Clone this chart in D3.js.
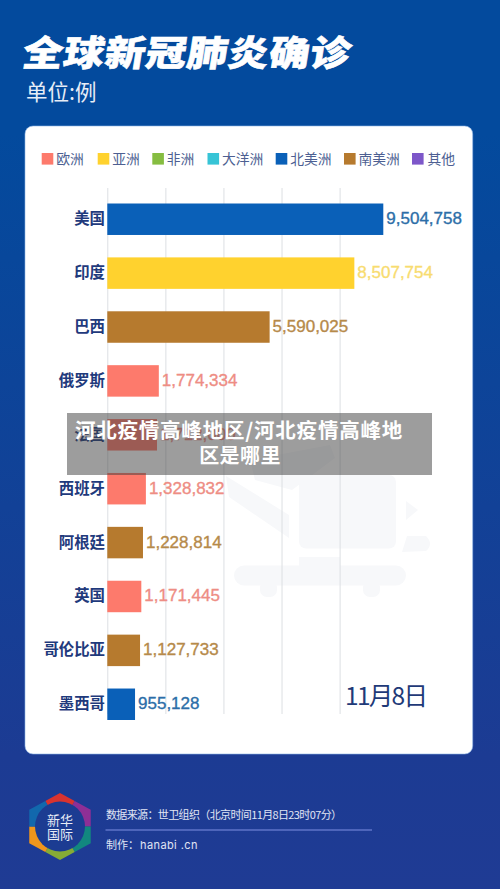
<!DOCTYPE html>
<html><head><meta charset="utf-8">
<script src="https://cdnjs.cloudflare.com/ajax/libs/d3/7.8.5/d3.min.js"></script>
<style>html,body{margin:0;padding:0;background:#0b4499}svg{display:block}</style>
</head><body><div id="c"></div>
<script>
const countries = ["美国","印度","巴西","俄罗斯","法国","西班牙","阿根廷","英国","哥伦比亚","墨西哥"];
const cases = [9504758,8507754,5590025,1774334,1712000,1328832,1228814,1171445,1127733,955128];
const regionOf = ["北美洲","亚洲","南美洲","欧洲","欧洲","欧洲","南美洲","欧洲","南美洲","北美洲"];
const legendNames = ["欧洲","亚洲","非洲","大洋洲","北美洲","南美洲","其他"];
const legendColors = ["#fd7a6c","#ffd22e","#86bd41","#37c4d6","#0a60b8","#b67a2e","#7d57c9"];
const valueColors = ["#ee8d84","#f8dc70","#86bd41","#37c4d6","#2c6ea8","#b68a4a","#7d57c9"];
const legendX = [41.7,97.7,152.3,207.5,275.7,344,412];
const ticks = [0,2000000,4000000,6000000,8000000];
const logoColors = ["#d9332f","#8e2f96","#12877f","#86ac35","#f0961c","#1268ad"];

const W=500,H=889,CN='"Noto Sans CJK SC","Noto Sans",sans-serif';
const svg=d3.select("#c").append("svg").attr("width",W).attr("height",H);
const defs=svg.append("defs");
const g=defs.append("linearGradient").attr("id","bg").attr("x1",0).attr("y1",0).attr("x2",0).attr("y2",1);
g.append("stop").attr("offset","0.15").attr("stop-color","#034a9d");
g.append("stop").attr("offset","0.85").attr("stop-color","#1c3b93");
g.append("stop").attr("offset","1").attr("stop-color","#1f3b94");
svg.append("rect").attr("width",W).attr("height",H).attr("fill","url(#bg)");

// title
svg.append("text").attr("transform","translate(21,65.5) skewX(-9) scale(1,0.88)")
 .attr("font-family",CN).attr("font-weight",900).attr("font-size",40.5).attr("fill","#fff")
 .attr("stroke","#fff").attr("stroke-width",0.7).attr("letter-spacing",0.6).text("全球新冠肺炎确诊");
svg.append("text").attr("x",26).attr("y",100).attr("font-family",CN).attr("font-size",21.5)
 .attr("fill","#e6edf7").text("单位:例");

// card
svg.append("rect").attr("x",25).attr("y",126).attr("width",447.7).attr("height",628).attr("rx",8)
 .attr("fill","#fff").attr("stroke","#8fb6e6").attr("stroke-width",0.6);

// watermark
const wm=svg.append("g").attr("fill","#f7f8fa");
wm.append("rect").attr("x",299).attr("y",475).attr("width",97).attr("height",73.5).attr("rx",7);
wm.append("rect").attr("x",234).attr("y",565.5).attr("width",172).attr("height",20).attr("rx",10);
wm.append("rect").attr("x",299).attr("y",557).attr("width",41).attr("height",12);
wm.append("rect").attr("x",260).attr("y",580).attr("width",17).attr("height",17).attr("rx",7);
wm.append("rect").attr("x",363).attr("y",580).attr("width",17).attr("height",17).attr("rx",7);
wm.append("path").attr("d","M226 476 L289 515 L289 538 L229 497 Z");
wm.append("path").attr("d","M250 460 L330 445 L335 458 L292 490 L255 480 Z");
wm.append("path").attr("d","M406 501 L418 510 L406 520 Z");
wm.append("path").attr("d","M407 536 L426 536 Q434 544 426 551 L402 552 Z");

// legend
const lg=svg.append("g").selectAll("g").data(legendNames).join("g")
 .attr("transform",(d,i)=>`translate(${legendX[i]},153)`);
lg.append("rect").attr("width",11.6).attr("height",11.6).attr("fill",(d,i)=>legendColors[i]);
lg.append("text").attr("x",d=>d=="其他"?15.5:14.5).attr("y",10.8).attr("font-family",CN).attr("font-size",13.8)
 .attr("fill","#4d5f92").text(d=>d);

// scales
const x=d3.scaleLinear().domain([0,9504758]).range([107.3,383.3]);
const y=d3.scaleBand().domain(countries).range([203.5,720]).paddingInner(0.416).paddingOuter(0);
const color=d3.scaleOrdinal().domain(legendNames).range(legendColors);
const vcolor=d3.scaleOrdinal().domain(legendNames).range(valueColors);

// grid
const gridAxis=d3.axisBottom(x).tickValues(ticks).tickSize(526).tickFormat("");
const ga=svg.append("g").attr("transform","translate(0,188)").call(gridAxis);
ga.select(".domain").remove();
ga.selectAll("line").attr("stroke","#dcdfe3").attr("stroke-width",1);

// bars
const rows=countries.map((c,i)=>({c,v:cases[i],r:regionOf[i]}));
svg.append("g").selectAll("rect").data(rows).join("rect")
 .attr("x",x(0)).attr("y",d=>y(d.c)).attr("width",d=>x(d.v)-x(0)).attr("height",y.bandwidth())
 .attr("fill",d=>color(d.r));
svg.append("g").selectAll("text").data(rows).join("text")
 .attr("x",d=>x(d.v)+3).attr("y",d=>y(d.c)+y.bandwidth()/2+0.5).attr("dominant-baseline","middle")
 .attr("font-family","'Liberation Sans',sans-serif").attr("font-size",17)
 .attr("fill",d=>vcolor(d.r)).attr("stroke",d=>vcolor(d.r)).attr("stroke-width",0.35).text(d=>d3.format(",")(d.v));

// category labels
const ya=svg.append("g").attr("transform","translate(105,0)").call(d3.axisLeft(y).tickSize(0).tickPadding(0));
ya.select(".domain").remove();
ya.selectAll("text").attr("font-family",CN).attr("font-weight",700).attr("font-size",15.4).attr("fill","#1f3a7c");

// date
svg.append("text").attr("x",345).attr("y",705).attr("font-family",CN).attr("font-size",24.5)
 .attr("fill","#1f3a78").attr("textLength",83).text("11月8日");

// logo
const logo=svg.append("g").attr("transform","translate(60,826.5)");
const hex=d3.range(6).map(i=>{const a=i*Math.PI/3;return [35.5*Math.sin(a),-33.5*Math.cos(a)];});
defs.append("clipPath").attr("id","hex").append("polygon").attr("points",hex.map(p=>p.join(",")).join(" "));
const pie=d3.pie().value(1).sort(null).startAngle(-Math.PI/6).endAngle(2*Math.PI-Math.PI/6);
logo.append("g").attr("clip-path","url(#hex)").selectAll("path").data(pie(logoColors)).join("path")
 .attr("d",d3.arc().innerRadius(0).outerRadius(42)).attr("fill",d=>d.data);
logo.append("circle").attr("r",25).attr("cy",0).attr("fill","#1c3c92");
logo.append("text").attr("text-anchor","middle").attr("y",-1.5).attr("font-family",CN).attr("font-size",13)
 .attr("fill","#e8ecf6").text("新华");
logo.append("text").attr("text-anchor","middle").attr("y",12).attr("font-family",CN).attr("font-size",13)
 .attr("fill","#e8ecf6").text("国际");

// footer
svg.append("text").attr("x",106).attr("y",819).attr("font-family",CN).attr("font-size",11)
 .attr("fill","#e0e5f4").attr("textLength",236).text("数据来源：世卫组织（北京时间11月8日23时07分）");
svg.append("line").attr("x1",105.5).attr("x2",372).attr("y1",830).attr("y2",830).attr("stroke","#7f90e2").attr("stroke-width",1);
svg.append("text").attr("x",106).attr("y",849).attr("font-family",CN).attr("font-size",11)
 .attr("fill","#e0e5f4").text("制作：");
svg.append("text").attr("x",140).attr("y",849).attr("font-family","Inter,sans-serif").attr("font-size",11)
 .attr("letter-spacing",0.4).attr("fill","#e0e5f4").text("hanabi .cn");

// overlay
svg.append("rect").attr("x",67).attr("y",413).attr("width",365).attr("height",62).attr("fill","rgba(60,60,60,0.5)");
svg.append("text").attr("x",239).attr("y",438).attr("text-anchor","middle").attr("font-family",CN)
 .attr("font-weight",700).attr("font-size",20.5).attr("letter-spacing",0.8).attr("fill","#fff").text("河北疫情高峰地区/河北疫情高峰地");
svg.append("text").attr("x",240).attr("y",463).attr("text-anchor","middle").attr("font-family",CN)
 .attr("font-weight",700).attr("font-size",20).attr("letter-spacing",0.4).attr("fill","#fff").text("区是哪里");
</script></body></html>
